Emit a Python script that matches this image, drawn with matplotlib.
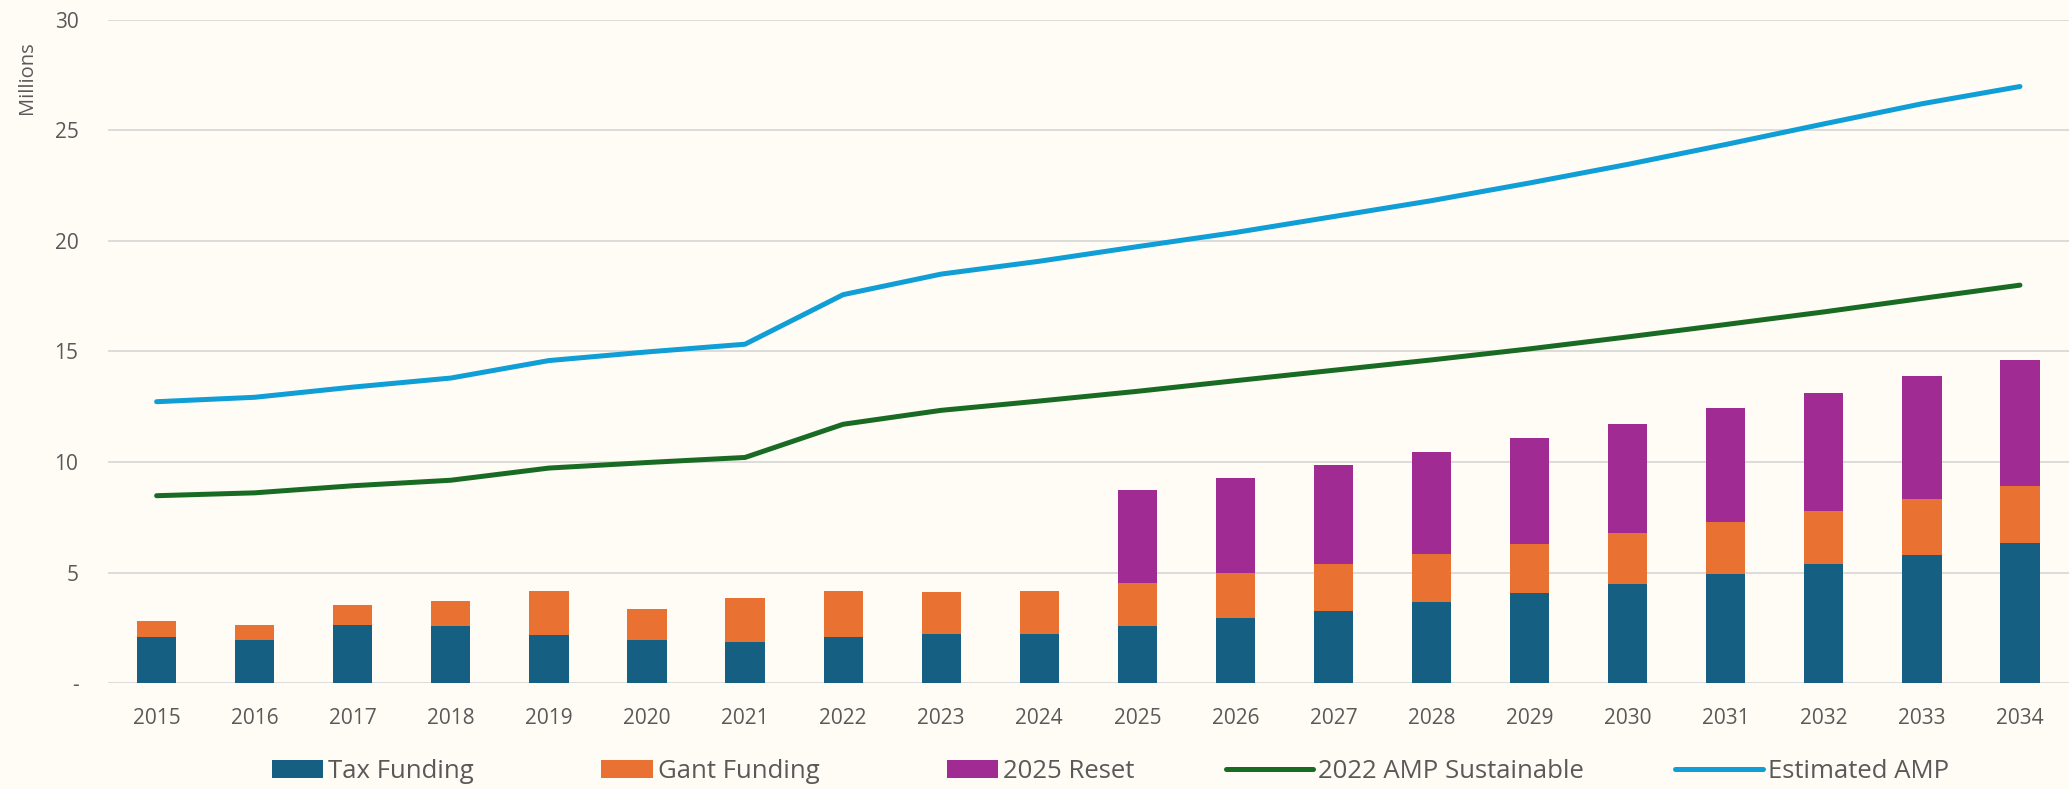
import matplotlib.pyplot as plt
import matplotlib.patches as mpatches
from matplotlib.legend_handler import HandlerPatch
import numpy as np

years = [str(y) for y in range(2015, 2035)]

# bar segments (millions)
tax_funding = [2.10, 1.95, 2.63, 2.58, 2.17, 1.97, 1.85, 2.11, 2.23, 2.23,
               2.57, 2.93, 3.29, 3.68, 4.07, 4.48, 4.92, 5.37, 5.82, 6.32]
gant_funding = [0.70, 0.70, 0.93, 1.12, 1.99, 1.37, 2.02, 2.06, 1.91, 1.94,
                1.98, 2.05, 2.09, 2.16, 2.22, 2.31, 2.37, 2.43, 2.52, 2.58]
reset_2025 = [0, 0, 0, 0, 0, 0, 0, 0, 0, 0,
              4.17, 4.30, 4.48, 4.63, 4.80, 4.94, 5.14, 5.32, 5.54, 5.72]

# lines
amp_2022 = [8.48, 8.61, 8.93, 9.18, 9.73, 9.98, 10.21, 11.71, 12.34, 12.76,
            13.20, 13.68, 14.15, 14.62, 15.12, 15.66, 16.22, 16.79, 17.40, 18.00]
amp_est = [12.73, 12.93, 13.39, 13.80, 14.59, 14.98, 15.33, 17.57, 18.50, 19.08,
           19.74, 20.38, 21.10, 21.82, 22.62, 23.46, 24.36, 25.29, 26.20, 26.98]

bg = "#FFFCF5"
txt = "#595959"

plt.rcParams['font.family'] = ['Open Sans', 'DejaVu Sans']

fig = plt.figure(figsize=(20.69, 7.89), dpi=100, facecolor=bg)
ax = fig.add_axes([0.052, 0.134, 0.948, 0.841])
ax.set_facecolor(bg)

x = np.arange(len(years))
w = 0.4
tax = np.array(tax_funding)
gant = np.array(gant_funding)
reset = np.array(reset_2025)

b1 = ax.bar(x, tax, w, color="#156082", label="Tax Funding", zorder=2)
b2 = ax.bar(x, gant, w, bottom=tax, color="#E97132", label="Gant Funding", zorder=2)
b3 = ax.bar(x, reset, w, bottom=tax + gant, color="#A02B93", label="2025 Reset", zorder=2)
l1, = ax.plot(x, amp_2022, color="#196B24", lw=3.6, solid_capstyle="round",
              label="2022 AMP Sustainable", zorder=3)
l2, = ax.plot(x, amp_est, color="#0F9ED5", lw=3.6, solid_capstyle="round",
              label="Estimated AMP", zorder=3)

ax.set_xlim(-0.5, len(years) - 0.5)
ax.set_ylim(0, 30)
ax.set_yticks([0, 5, 10, 15, 20, 25, 30])
ax.set_yticklabels(["-", "5", "10", "15", "20", "25", "30"])
ax.set_xticks(x)
ax.set_xticklabels(years)
ax.grid(axis="y", color="#D9D9D9", lw=1.3, zorder=0)
ax.set_axisbelow(True)
for s in ax.spines.values():
    s.set_visible(False)
ax.tick_params(axis="y", length=0, pad=21, labelsize=15, labelcolor=txt)
ax.tick_params(axis="x", length=0, pad=18, labelsize=15, labelcolor=txt)

ax.set_ylabel("Millions", fontsize=14.5, color=txt)
ax.yaxis.set_label_coords(-0.0362, 0.912)


# patches in the legend are shorter than the line keys
def short_rect(legend, orig_handle, xdescent, ydescent, width, height, fontsize):
    rw = 2.0 * fontsize
    return mpatches.Rectangle((width - rw - xdescent, -ydescent), rw, height)


fig.legend([b1[0], b2[0], b3[0], l1, l2],
           ["Tax Funding", "Gant Funding", "2025 Reset", "2022 AMP Sustainable", "Estimated AMP"],
           loc="center", bbox_to_anchor=(0.528, 0.022), ncol=5,
           frameon=False, fontsize=18.5, handlelength=3.4, handleheight=0.66,
           handletextpad=0.2, columnspacing=3.55, labelcolor=txt,
           handler_map={mpatches.Rectangle: HandlerPatch(patch_func=short_rect)})

fig.savefig("out.png", dpi=100, facecolor=bg)
